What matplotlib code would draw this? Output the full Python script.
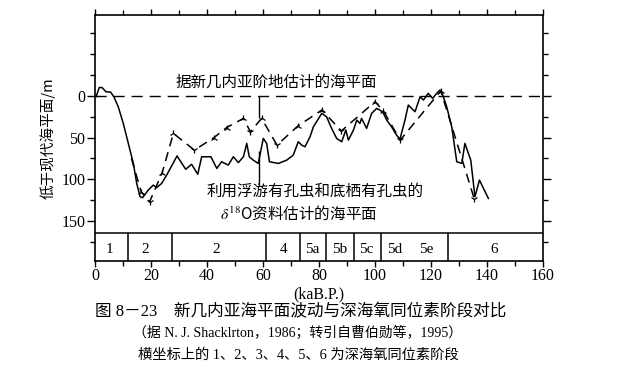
import matplotlib
matplotlib.use("Agg")
import matplotlib.pyplot as plt
from matplotlib.ticker import MultipleLocator

plt.rcParams["font.family"] = ["Liberation Serif", "Noto Sans CJK SC", "DejaVu Sans"]
plt.rcParams["mathtext.fontset"] = "stix"

CJK = ["Noto Sans CJK SC", "DejaVu Sans"]

# sea level from the delta-18O record (solid)
iso_age = [0.4, 1.5, 2.5, 3.9, 5.6, 6.8, 8.3, 10.1, 11.9, 13.7, 14.9, 16.1, 17.0,
           19.0, 20.8, 22.0, 23.8, 25.6, 29.3, 32.4, 34.5, 36.7, 38.1, 41.4,
           43.5, 45.2, 47.6, 49.4, 51.2, 53.0, 54.2, 55.1, 56.5, 58.3, 60.1,
           61.3, 62.3, 65.5, 68.5, 70.8, 72.6, 73.8, 75.0, 76.8, 78.0, 81.0,
           82.7, 84.5, 86.3, 88.1, 89.6, 90.5, 92.3, 93.5, 94.6, 95.2, 97.0,
           98.8, 100.6, 102.7, 104.2, 105.9, 107.7, 108.9, 110.7, 111.9, 114.3,
           116.1, 117.3, 119.0, 120.6, 122.0, 123.2, 124.2, 125.6, 127.4, 129.2,
           131.0, 132.1, 134.2, 135.7, 137.3, 140.5]
iso_depth = [1, -10, -10, -5, -4.5, 1.5, 13, 33, 57, 81, 105, 121, 122,
             113, 107, 110, 105, 95, 72, 88, 82, 94, 73, 73,
             87, 79, 83, 73, 80, 73, 57, 73, 77, 81, 51,
             57, 79, 81, 77, 71, 55, 59, 61, 49, 37, 21,
             25, 39, 51, 55, 41, 53, 41, 29, 33, 27, 39,
             21, 15, 19, 29, 37, 47, 52, 29, 11, 19,
             1, 5, -3, 3, -3, -7, -1, 13, 37, 79,
             81, 57, 77, 121, 101, 123]

# sea level from New Guinea terraces (dashed)
ter_age = [13.0, 16.5, 19.5, 24.0, 28.0, 35.5, 42.5, 47.0, 53.0, 55.5, 59.5,
           65.0, 72.5, 81.0, 88.0, 100.0, 103.0, 109.0, 123.5, 135.5]
ter_depth = [75, 115, 127, 92, 45, 65, 50, 38, 27, 43, 27,
             59, 36, 17, 42, 7, 18, 53, -6, 124]

# oxygen isotope stages
stage_bounds = [11.8, 27.5, 60.9, 73.3, 82.4, 92.4, 102.3, 125.9]
stage_labels = ["1", "2", "2", "4", "5a", "5b", "5c", "5d", "5e", "6"]
stage_label_x = [5.1, 18.0, 43.3, 67.3, 77.7, 87.5, 97.0, 106.9, 118.3, 142.4]

STAGE_TOP = 165
Y_TOP, Y_BOTTOM = -97, 198

fig = plt.figure(figsize=(6.43, 3.76), dpi=100)
ax = fig.add_axes([95 / 643, 1 - 261 / 376, 448 / 643, 246 / 376])

ax.axhline(0, color="black", lw=1.0, ls=(0, (8, 5)))
ax.plot(iso_age, iso_depth, color="black", lw=1.1)
ax.plot(ter_age, ter_depth, color="black", lw=1.1, ls=(0, (6, 4)))

# small arrow-head marks at the terrace turning points
for i in range(1, len(ter_age)):
    prev_d = ter_depth[i - 1]
    next_d = ter_depth[i + 1] if i + 1 < len(ter_age) else prev_d + 1
    if ter_depth[i] > prev_d and ter_depth[i] >= next_d:
        m = "1"
    else:
        m = "2"
    ax.plot(ter_age[i], ter_depth[i], marker=m, color="black", ms=5, mew=0.9)

# pointers from the labels
ax.vlines(58.4, 0, 27, color="black", lw=1.0)
ax.vlines(58.6, 66, 106, color="black", lw=1.0)

ax.text(64.8, -16, "据新几内亚阶地估计的海平面", ha="center", va="center",
        fontsize=11.2, family=CJK)
ax.text(78.5, 115, "利用浮游有孔虫和底栖有孔虫的", ha="center", va="center",
        fontsize=11.2, family=CJK)
ax.text(72.9, 141, r"$\delta^{18}$O资料估计的海平面", ha="center", va="center",
        fontsize=11.2, family=CJK)

# stage band
ax.axhline(STAGE_TOP, color="black", lw=1.1)
ax.vlines(stage_bounds, STAGE_TOP, Y_BOTTOM, color="black", lw=1.1)
for x, lab in zip(stage_label_x, stage_labels):
    ax.text(x, 184, lab, ha="center", va="center", fontsize=11)

ax.set_xlim(0, 160)
ax.set_ylim(Y_BOTTOM, Y_TOP)

ax.xaxis.set_major_locator(MultipleLocator(20))
ax.xaxis.set_minor_locator(MultipleLocator(10))
ax.set_yticks([0, 50, 100, 150])
ax.yaxis.set_minor_locator(MultipleLocator(25))
ax.tick_params(which="both", direction="out", top=True, right=True,
               labeltop=False, labelright=False, width=1.0, labelsize=11.5,
               color="black", pad=1)
ax.tick_params(which="major", length=6)
ax.tick_params(which="minor", length=3.5)
ax.tick_params(axis="x", which="major", length=4.5, pad=0.5)
for s in ax.spines.values():
    s.set_linewidth(1.2)

ax.set_xlabel("(kaB.P.)", fontsize=11.5, va="center")
ax.xaxis.set_label_coords(0.5, -(294 - 261) / 246)
ax.set_ylabel("低于现代海平面/m", fontsize=10.5, family=CJK, labelpad=4)

fig.text(95 / 643, 1 - 312 / 376, "图 8－23　新几内亚海平面波动与深海氧同位素阶段对比",
         ha="left", va="center", fontsize=12)
fig.text(298 / 643, 1 - 333 / 376, "（据 N. J. Shacklrton，1986；转引自曹伯勋等，1995）",
         ha="center", va="center", fontsize=10)
fig.text(298 / 643, 1 - 355 / 376, "横坐标上的 1、2、3、4、5、6 为深海氧同位素阶段",
         ha="center", va="center", fontsize=10.3)

fig.savefig("out.png", dpi=100)
